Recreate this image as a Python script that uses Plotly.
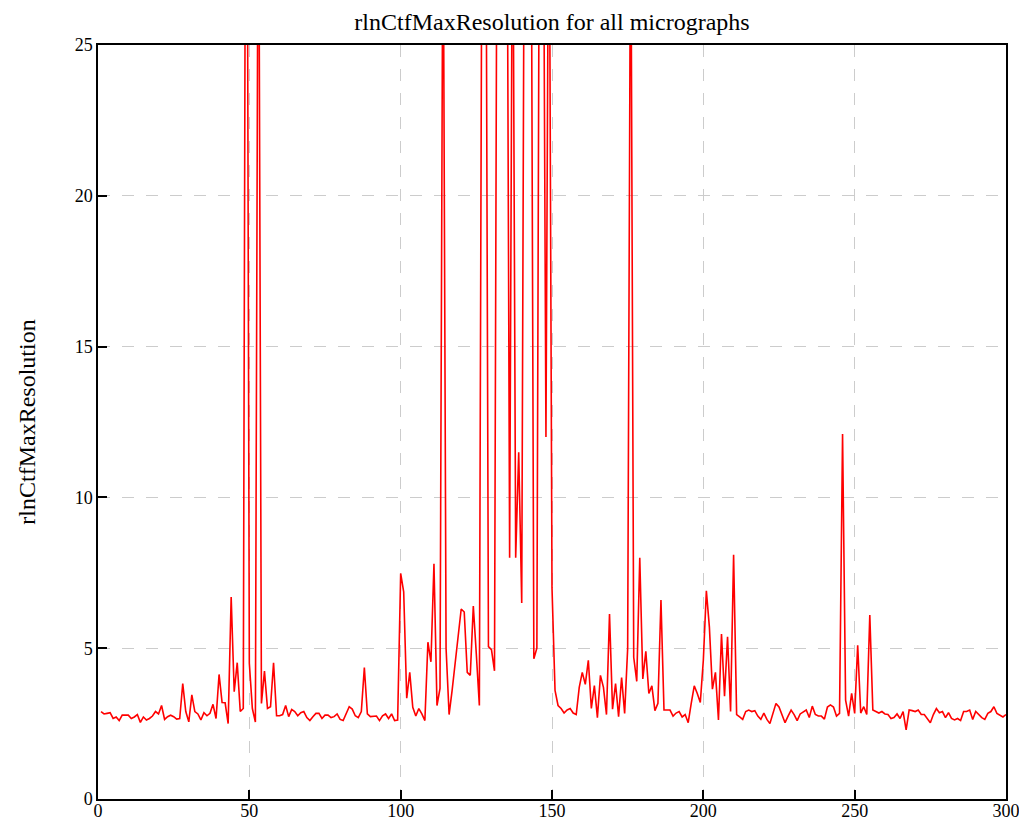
import plotly.graph_objects as go

micrograph = list(range(1, 301))

max_res_1_50 = [
    2.90, 2.82, 2.84, 2.86, 2.67, 2.72, 2.60, 2.78, 2.78, 2.78,
    2.67, 2.72, 2.80, 2.54, 2.72, 2.62, 2.67, 2.75, 2.90, 2.82,
    3.10, 2.64, 2.73, 2.78, 2.73, 2.65, 2.67, 3.83, 2.90, 2.56,
    3.45, 2.90, 2.82, 2.62, 2.86, 2.76, 2.84, 3.14, 2.67, 4.13,
    3.20, 3.19, 2.50, 6.70, 3.56, 4.52, 2.90, 3.00, 42.0, 4.50,
]
max_res_51_100 = [
    3.00, 2.55, 34.0, 3.17, 4.24, 3.00, 3.06, 4.52, 2.76, 2.76,
    2.80, 3.10, 2.73, 2.97, 2.90, 2.76, 2.86, 2.90, 2.70, 2.60,
    2.73, 2.84, 2.84, 2.67, 2.78, 2.78, 2.70, 2.73, 2.82, 2.64,
    2.60, 2.82, 3.06, 2.98, 2.76, 2.70, 2.90, 4.36, 2.82, 2.73,
    2.73, 2.75, 2.60, 2.76, 2.82, 2.67, 2.82, 2.60, 2.62, 7.48,
]
max_res_101_150 = [
    6.87, 3.34, 4.20, 3.04, 2.75, 3.00, 2.82, 2.60, 5.20, 4.55,
    7.80, 3.10, 3.67, 31.0, 5.00, 2.80, 3.60, 4.50, 5.40, 6.30,
    6.20, 4.20, 4.10, 6.40, 4.80, 3.10, 35.0, 36.0, 5.05, 4.95,
    4.25, 36.0, 38.0, 37.0, 35.0, 8.00, 32.0, 8.00, 11.5, 6.50,
    35.0, 37.0, 34.0, 4.65, 5.00, 36.0, 34.0, 12.0, 33.0, 7.00,
]
max_res_151_200 = [
    3.60, 3.10, 3.00, 2.85, 2.95, 3.00, 2.85, 2.80, 3.70, 4.20,
    3.80, 4.60, 3.00, 3.76, 2.70, 4.10, 3.70, 2.80, 6.13, 2.98,
    3.83, 2.73, 4.03, 2.84, 5.00, 31.0, 4.70, 3.90, 8.00, 3.98,
    4.90, 3.50, 3.75, 2.93, 3.17, 6.60, 2.95, 2.95, 2.95, 2.75,
    2.85, 2.90, 2.72, 2.80, 2.53, 3.17, 3.75, 3.50, 3.20, 4.60,
]
max_res_201_250 = [
    6.90, 5.70, 3.64, 4.20, 2.62, 5.47, 3.41, 5.38, 2.90, 8.10,
    2.80, 2.72, 2.64, 2.90, 2.95, 2.90, 2.93, 2.75, 2.64, 2.85,
    2.64, 2.50, 2.84, 3.17, 3.05, 2.80, 2.53, 2.75, 2.95, 2.80,
    2.60, 2.82, 2.90, 2.95, 2.70, 3.08, 2.80, 2.75, 2.75, 2.65,
    3.05, 3.12, 3.05, 2.75, 2.84, 12.1, 3.28, 2.75, 3.50, 2.84,
]
max_res_251_300 = [
    5.10, 2.85, 3.06, 2.80, 6.10, 2.95, 2.90, 2.85, 2.90, 2.82,
    2.80, 2.67, 2.70, 2.82, 2.67, 2.90, 2.29, 2.95, 2.93, 2.90,
    2.95, 2.80, 2.80, 2.65, 2.53, 2.80, 3.00, 2.86, 2.90, 2.70,
    2.86, 2.67, 2.62, 2.67, 2.60, 2.90, 2.90, 2.95, 2.64, 2.90,
    2.80, 2.70, 2.64, 2.84, 2.90, 3.06, 2.84, 2.77, 2.72, 2.80,
]

max_resolution = (max_res_1_50 + max_res_51_100 + max_res_101_150
                  + max_res_151_200 + max_res_201_250 + max_res_251_300)

x_ticks = [0, 50, 100, 150, 200, 250, 300]
y_ticks = [0, 5, 10, 15, 20, 25]

FONT = "Liberation Serif, Times New Roman, serif"

fig = go.Figure()
fig.add_trace(go.Scatter(
    x=micrograph, y=max_resolution, mode="lines",
    line=dict(color="#ff0000", width=1.6),
    showlegend=False,
))

axis_common = dict(
    showline=True, linecolor="black", linewidth=1.5, mirror=True,
    ticks="inside", ticklen=9, tickwidth=1.5, tickcolor="black",
    showgrid=True, gridcolor="#cccccc", gridwidth=1.3, griddash="12px,12px",
    zeroline=False, automargin=False, ticklabeloverflow="allow",
    tickfont=dict(family=FONT, size=18, color="black"),
)

fig.update_layout(
    width=1019, height=823,
    margin=dict(l=98, r=13, t=45, b=24),
    paper_bgcolor="white", plot_bgcolor="white",
    font=dict(family=FONT, color="black"),
    title=dict(text="rlnCtfMaxResolution for all micrographs",
               x=0.5, xref="paper", y=1 - 22 / 823, yref="container",
               xanchor="center", yanchor="middle",
               font=dict(family=FONT, size=24, color="black")),
    xaxis=dict(range=[0, 300], tickvals=x_ticks, ticklabelstandoff=-5,
               **axis_common),
    yaxis=dict(range=[0, 25], tickvals=y_ticks,
               title=dict(text="rlnCtfMaxResolution", standoff=32,
                          font=dict(family=FONT, size=24, color="black")),
               **axis_common),
)

fig.write_html(
    "out.html",
    config={"displayModeBar": False},
    post_script="document.body.style.margin='0px';document.body.style.overflow='hidden';",
)
